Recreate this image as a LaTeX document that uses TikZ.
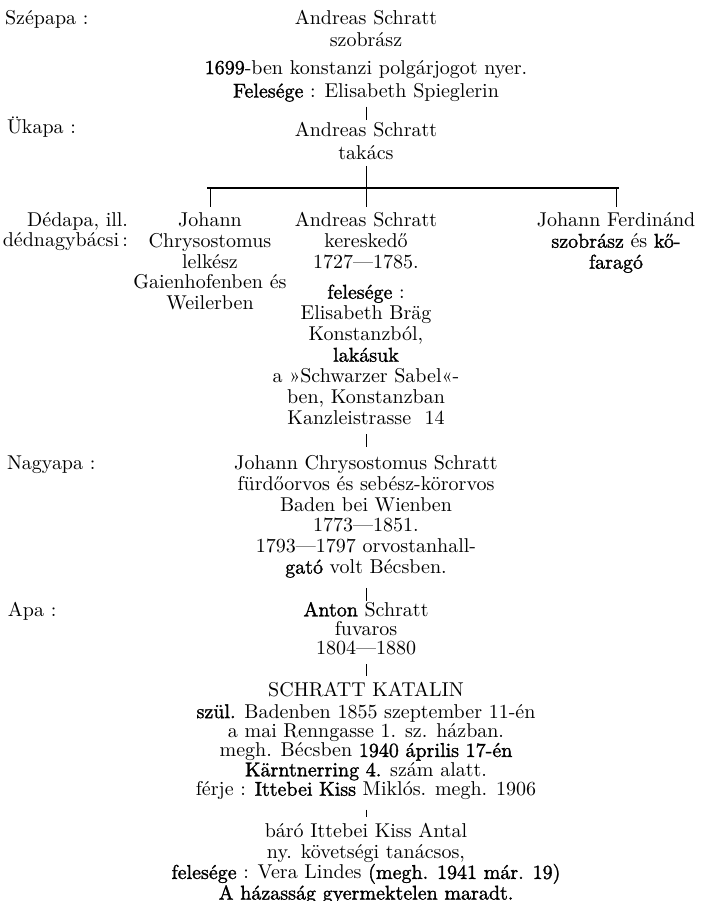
\documentclass[tikz,border=0pt]{standalone}
\usepackage{fontspec}
\newfontfamily\hv{lmroman10-regular.otf}[FakeBold=1.4]
\begin{document}
\begin{tikzpicture}[x=0.5pt,y=-0.5pt,
  every node/.style={inner sep=0pt, outer sep=0pt, font={\fontsize{10}{10.2}\selectfont}},
  blk/.style={align=center, anchor=north},
  lbl/.style={align=left, anchor=north west},
  link/.style={line width=0.5pt},
  bar/.style={line width=0.9pt}]
\useasboundingbox (0,0) rectangle (701,901);
\fill[white] (0,0) rectangle (701,901);

% generation labels
\node[lbl] (l1) at (5,10) {\strut Szépapa :};
\node[lbl] (l2) at (7,117) {\strut Ükapa :};
\node[align=right, anchor=north east] (l3) at (128,212) {\strut Dédapa, ill.\\ dédnagybácsi\,:};
\node[lbl] (l4) at (7,455) {\strut Nagyapa :};
\node[lbl] (l5) at (8,602) {\strut Apa :};

% persons
\node[blk] (a) at (366,10) {\strut Andreas Schratt\\[1pt] szobrász\\[3.5pt] {\hv 1699}-ben konstanzi polgárjogot nyer.\\[1.5pt] {\hv Felesége} : Elisabeth Spieglerin\strut};
\node[blk] (b) at (366,122) {\strut Andreas Schratt\\[1.5pt] takács\strut};

\node[blk, font={\fontsize{10}{10.4}\selectfont}] (c1) at (210,212) {\strut Johann\\ Chrysostomus\\ lelkész\\ Gaienhofenben és\\ Weilerben};
\node[blk, font={\fontsize{10}{10.5}\selectfont}] (c2) at (366,212) {\strut Andreas Schratt\\ kereskedő\\ 1727—1785.\\[4.5pt] {\hv felesége} :\\ Elisabeth Bräg\\ Konstanzból,\\ {\hv lakásuk}\\ a »Schwarzer Sabel«-\\ ben, Konstanzban\\ Kanzleistrasse~~14\strut};
\node[blk, font={\fontsize{10}{10.5}\selectfont}] (c3) at (616,212) {\strut Johann Ferdinánd\\ {\hv szobrász} és {\hv kő-}\\ {\hv faragó}};

\node[blk, font={\fontsize{10}{10.4}\selectfont}] (d) at (366,455) {\strut Johann Chrysostomus Schratt\\ fürdőorvos és sebész-körorvos\\ Baden bei Wienben\\ 1773—1851.\\ 1793—1797 orvostanhall-\\ {\hv gató} volt Bécsben.\strut};
\node[blk] (e) at (366,602) {\strut {\hv Anton} Schratt\\[-0.8pt] fuvaros\\[-0.6pt] 1804—1880\strut};
\node[blk, font={\fontsize{10}{9.7}\selectfont}] (f) at (366,682) {\strut SCHRATT KATALIN\\ {\hv szül.} Badenben 1855 szeptember 11-én\\ a mai Renngasse 1. sz. házban.\\ megh. Bécsben {\hv 1940 április 17-én}\\ {\hv Kärntnerring 4.} szám alatt.\\ férje : {\hv Ittebei Kiss} Miklós. megh. 1906\strut};
\node[blk, font={\fontsize{10}{10.35}\selectfont}] (g) at (366,823) {\strut báró Ittebei Kiss Antal\\ ny. követségi tanácsos,\\ {\hv felesége} : Vera Lindes {\hv (megh. 1941 már. 19)}\\ {\hv A házasság gyermektelen maradt.}};

% connectors
\coordinate (bl) at (207,188);
\coordinate (bm) at (366,188);
\coordinate (br) at (619,188);
\draw[link, shorten <=1.5pt, shorten >=1pt] (a.south) -- (b.north);
\draw[link] (b.south) -- (bm);
\draw[bar] (bl) -- (br);
\draw[link, shorten >=2.5pt] (c1.north |- bm) -- (c1.north);
\draw[link, shorten >=2.5pt] (c2.north |- bm) -- (c2.north);
\draw[link, shorten >=2.5pt] (c3.north |- bm) -- (c3.north);
\draw[link, shorten <=1.5pt, shorten >=4pt] (c2.south) -- (d.north);
\draw[link, shorten <=4pt, shorten >=0.5pt] (d.south) -- (e.north);
\draw[link, shorten <=2pt, shorten >=3pt] (e.south) -- (f.north);
\draw[link, shorten <=4pt, shorten >=3pt] (f.south) -- (g.north);
\end{tikzpicture}
\end{document}
